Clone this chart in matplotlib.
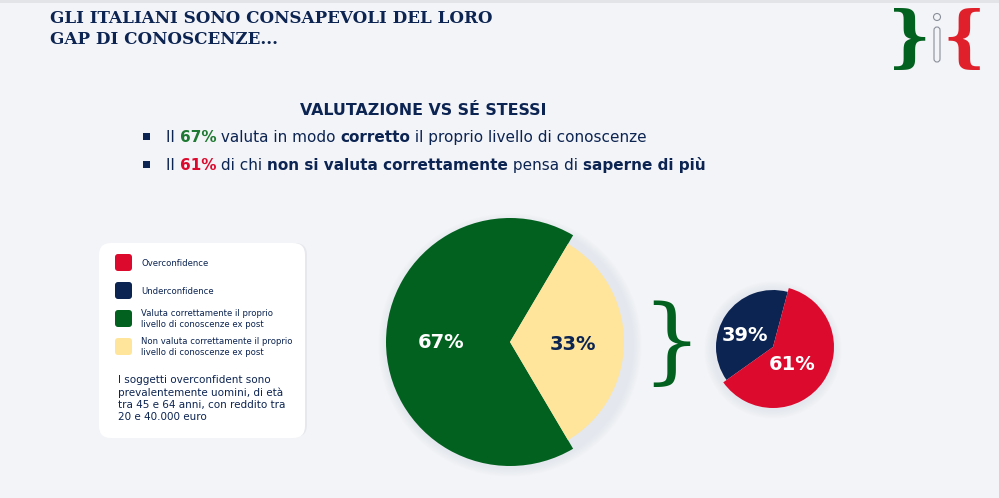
import matplotlib
matplotlib.use('Agg')
import matplotlib.pyplot as plt
from matplotlib.patches import FancyBboxPatch, Rectangle, Circle

# Data
main_labels = ['Valuta correttamente', 'Non valuta correttamente']
main_values = [67, 33]
sub_labels = ['Underconfidence', 'Overconfidence']
sub_values = [39, 61]

legend_items = [
    'Overconfidence',
    'Underconfidence',
    'Valuta correttamente il proprio\nlivello di conoscenze ex post',
    'Non valuta correttamente il proprio\nlivello di conoscenze ex post',
]
note_lines = [
    'I soggetti overconfident sono',
    'prevalentemente uomini, di età',
    'tra 45 e 64 anni, con reddito tra',
    '20 e 40.000 euro',
]

# Colours
BG = '#F3F4F7'
NAVY = '#0C2452'
RED = '#DC0A2D'
GREEN = '#03611F'
GREEN_TXT = '#1E7A32'
YELLOW = '#FFE59B'
legend_colours = [RED, NAVY, GREEN, YELLOW]

W, H = 999, 498
SANS = 'DejaVu Sans'

fig = plt.figure(figsize=(W / 100, H / 100), dpi=100, facecolor=BG)
ax = fig.add_axes([0, 0, 1, 1])
ax.set_xlim(0, W)
ax.set_ylim(0, H)
ax.axis('off')
renderer = fig.canvas.get_renderer()


def Y(y):
    # image row -> axes y
    return H - y


def rich_line(x, y, segments, size):
    for text, weight, colour in segments:
        t = ax.text(x, Y(y), text, fontsize=size, fontweight=weight, color=colour,
                    family=SANS, ha='left', va='center')
        x += t.get_window_extent(renderer).width
    return x


def soft_shadow(x, y, r):
    # faint halo under a pie
    for k in range(6):
        ax.add_patch(Circle((x, y - 3), r + 2 + k * 1.5, color='#C9D0E0',
                            alpha=0.06, lw=0, zorder=0))


# Top shadow strip
ax.add_patch(Rectangle((0, Y(3)), W, 3, color='#E2E4E8', lw=0))

# Title
ax.text(50, Y(29), 'GLI ITALIANI SONO CONSAPEVOLI DEL LORO\nGAP DI CONOSCENZE...',
        fontsize=12.1, fontweight='bold', family='DejaVu Serif', color=NAVY,
        ha='left', va='center', linespacing=1.3)

# Logo
ax.text(909, Y(40), '}', fontsize=48, family='DejaVu Serif', color=GREEN,
        ha='center', va='center', fontweight='bold')
ax.text(964, Y(40), '{', fontsize=48, family='DejaVu Serif', color='#E0202B',
        ha='center', va='center', fontweight='bold')
ax.add_patch(Circle((937, Y(17)), 3.5, fill=False, ec='#8A8F99', lw=0.8))
ax.add_patch(FancyBboxPatch((934, Y(62)), 6, 35, boxstyle='round,pad=0,rounding_size=3',
                            fill=False, ec='#8A8F99', lw=0.8))

# Subtitle and bullets
ax.text(423, Y(110), 'VALUTAZIONE VS SÉ STESSI', fontsize=11.4, fontweight='bold',
        family=SANS, color=NAVY, ha='center', va='center')

for yy in (137, 165):
    ax.add_patch(Rectangle((143, Y(yy) - 3), 7, 7, color=NAVY, lw=0))

rich_line(166, 137, [
    ('Il ', 'normal', NAVY),
    (f'{main_values[0]}%', 'bold', GREEN_TXT),
    (' valuta in modo ', 'normal', NAVY),
    ('corretto', 'bold', NAVY),
    (' il proprio livello di conoscenze', 'normal', NAVY),
], 11.0)
rich_line(166, 165, [
    ('Il ', 'normal', NAVY),
    (f'{sub_values[1]}%', 'bold', RED),
    (' di chi ', 'normal', NAVY),
    ('non si valuta correttamente', 'bold', NAVY),
    (' pensa di ', 'normal', NAVY),
    ('saperne di più', 'bold', NAVY),
], 11.0)

# Legend card
ax.add_patch(FancyBboxPatch((101, Y(437)), 206, 194,
                            boxstyle='round,pad=0,rounding_size=12',
                            fc='#E6E8EE', ec='none', zorder=1))
ax.add_patch(FancyBboxPatch((99, Y(438)), 206, 195,
                            boxstyle='round,pad=0,rounding_size=12',
                            fc='white', ec='none', zorder=2))
legend_y = [263, 291, 319, 347]
for yy, col, lab in zip(legend_y, legend_colours, legend_items):
    ax.add_patch(FancyBboxPatch((115, Y(yy) - 8), 17, 17,
                                boxstyle='round,pad=0,rounding_size=3',
                                fc=col, ec='none', zorder=3))
    ax.text(141, Y(yy), lab, fontsize=6.1, family=SANS, color=NAVY,
            ha='left', va='center', linespacing=1.25, zorder=3)
for i, line in enumerate(note_lines):
    ax.text(118, Y(380 + i * 12.3), line, fontsize=7.5, family=SANS,
            color=NAVY, ha='left', va='center', zorder=3)

# Main pie
cx, cy = 510, Y(342)
soft_shadow(cx, cy, 122)
wedges, _ = ax.pie(main_values, colors=[GREEN, YELLOW], startangle=180 - 3.6 * main_values[0] / 2,
                   counterclock=True, center=(cx, cy), radius=124,
                   wedgeprops=dict(linewidth=0), frame=True)
wedges[1].set_radius(114)
ax.text(441, Y(342), f'{main_values[0]}%', fontsize=14, fontweight='bold',
        family=SANS, color='white', ha='center', va='center')
ax.text(573, Y(344), f'{main_values[1]}%', fontsize=14, fontweight='bold',
        family=SANS, color=NAVY, ha='center', va='center')

# Brace
ax.text(671, Y(346), '}', fontsize=68, family='DejaVu Serif', color=GREEN,
        ha='center', va='center')

# Small pie
sx, sy = 773, Y(347)
soft_shadow(sx, sy, 59)
swedges, _ = ax.pie(sub_values, colors=[NAVY, RED], startangle=75,
                    counterclock=True, center=(sx, sy), radius=61,
                    wedgeprops=dict(linewidth=0), frame=True)
swedges[0].set_radius(57)
ax.text(745, Y(335), f'{sub_values[0]}%', fontsize=14, fontweight='bold',
        family=SANS, color='white', ha='center', va='center')
ax.text(792, Y(364), f'{sub_values[1]}%', fontsize=14, fontweight='bold',
        family=SANS, color='white', ha='center', va='center')

ax.set_xlim(0, W)
ax.set_ylim(0, H)
ax.set_aspect('auto')
ax.axis('off')

fig.savefig('out.png', dpi=100, facecolor=BG)
